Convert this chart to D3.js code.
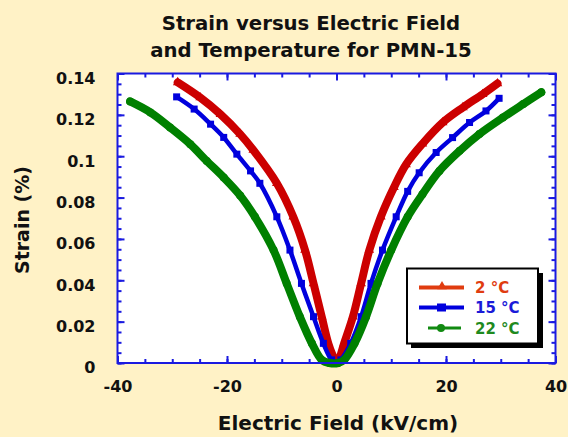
<!DOCTYPE html>
<html>
<head>
<meta charset="utf-8">
<script src="https://cdn.jsdelivr.net/npm/d3@7"></script>
<style>
  body { margin: 0; background: #fff2c6; }
  text { font-family: "DejaVu Sans", sans-serif; font-weight: bold; }
</style>
</head>
<body>
<div id="chart"></div>
<script>
// strain (%) vs electric field (kV/cm)
var field2 = [-29.0, -24.9, -21.2, -17.6, -15.2, -10.9, -7.9, -5.75, -4.2, -2.7, -1.5, -0.6, -0.1,
    0.4, 1.4, 3.0, 4.5, 6.0, 8.1, 10.5, 12.7, 15.7, 19.4, 23.1, 26.7, 29.4];
var strain2 = [0.1357, 0.1284, 0.1203, 0.1107, 0.103, 0.0869, 0.0707, 0.0546, 0.0385, 0.0224, 0.0095, 0.003, 0.0,
    0.0015, 0.0095, 0.0224, 0.0385, 0.0546, 0.0707, 0.085, 0.096, 0.106, 0.1163, 0.1236, 0.130, 0.1352];

var field15 = [-29.2, -26.0, -23.0, -20.6, -18.2, -15.7, -14.0, -10.9, -8.5, -6.4, -4.2, -2.4, -0.9, 0.0,
    0.8, 2.6, 4.5, 6.3, 8.4, 10.9, 13.0, 15.1, 18.2, 21.2, 24.3, 27.3, 29.7];
var strain15 = [0.1287, 0.1228, 0.1155, 0.1091, 0.1010, 0.0929, 0.0869, 0.0707, 0.0546, 0.0385, 0.0224, 0.0095, 0.0015, 0.0,
    0.0015, 0.0095, 0.0224, 0.0385, 0.0546, 0.0707, 0.083, 0.092, 0.1018, 0.109, 0.1163, 0.1219, 0.128];

var field22 = [-37.7, -34.0, -30.4, -26.7, -23.7, -20.6, -17.6, -14.9, -11.5, -9.1, -6.7, -4.5, -2.7, -1.3, 0.3,
    1.4, 3.3, 5.4, 7.5, 10.0, 13.0, 15.7, 18.8, 22.5, 26.1, 30.4, 34.1, 37.4];
var strain22 = [0.1265, 0.1212, 0.1139, 0.1058, 0.0977, 0.0897, 0.081, 0.0707, 0.0546, 0.0385, 0.0224, 0.0095, 0.0015, 0.0, 0.0,
    0.0015, 0.0095, 0.0224, 0.0385, 0.0546, 0.0707, 0.0816, 0.0929, 0.1026, 0.1107, 0.1187, 0.1252, 0.1309];

var seriesNames = ["2 \u00B0C", "15 \u00B0C", "22 \u00B0C"];
var xTicks = [-40, -20, 0, 20, 40];
var yTicks = [0, 0.02, 0.04, 0.06, 0.08, 0.1, 0.12, 0.14];

var width = 568, height = 437;
var plotL = 117.5, plotR = 555.5, plotT = 73.5, plotB = 363;

var svg = d3.select("#chart").append("svg")
    .attr("width", width)
    .attr("height", height);

var xScale = d3.scaleLinear().domain([-40, 40]).range([plotL, plotR]);
var yScale = d3.scaleLinear().domain([0, 0.14]).range([plotB, plotT]);

svg.append("rect")
    .attr("x", plotL).attr("y", plotT)
    .attr("width", plotR - plotL).attr("height", plotB - plotT)
    .attr("fill", "#fff");

// minor ticks on all four sides, pointing inward
var xMinor = d3.range(-40, 40.1, 5), yMinor = d3.range(0, 0.1401, 0.005);
function ticks(axis, tr, vals, size) {
    svg.append("g").attr("class", "ax").attr("transform", tr)
        .call(axis.tickValues(vals).tickSize(size).tickFormat(""));
}
ticks(d3.axisBottom(xScale), "translate(0," + plotB + ")", xMinor, -4);
ticks(d3.axisTop(xScale), "translate(0," + plotT + ")", xMinor, -4);
ticks(d3.axisLeft(yScale), "translate(" + plotL + ",0)", yMinor, -4);
ticks(d3.axisRight(yScale), "translate(" + plotR + ",0)", yMinor, -4);
ticks(d3.axisTop(xScale), "translate(0," + plotT + ")", xTicks, -7);
ticks(d3.axisRight(yScale), "translate(" + plotR + ",0)", yTicks, -7);

var xAxis = svg.append("g").attr("class", "ax")
    .attr("transform", "translate(0," + plotB + ")")
    .call(d3.axisBottom(xScale).tickValues(xTicks).tickSize(-7).tickPadding(18).tickFormat(function (d) { return String(d); }));
var yAxis = svg.append("g").attr("class", "ax")
    .attr("transform", "translate(" + plotL + ",0)")
    .call(d3.axisLeft(yScale).tickValues(yTicks).tickSize(-7).tickPadding(22).tickFormat(function (d) { return d === 0 ? "0" : String(+d.toFixed(2)); }));

svg.selectAll(".ax .domain").remove();
svg.selectAll(".ax line").attr("stroke", "#1a1ae0").attr("stroke-width", 2);
svg.selectAll(".ax text").attr("fill", "#111").style("font-size", "16px");
yAxis.selectAll("text").attr("dy", "0.62em");
xAxis.selectAll("text").attr("dy", "0.71em");

var line = d3.line()
    .x(function (d) { return xScale(d[0]); })
    .y(function (d) { return yScale(d[1]); })
    .curve(d3.curveCatmullRom.alpha(0.5));

var red = "#cc0000", blue = "#0000dd", green = "#008000";
var pts2 = d3.zip(field2, strain2), pts15 = d3.zip(field15, strain15), pts22 = d3.zip(field22, strain22);

svg.append("path").datum(pts2).attr("d", line)
    .attr("fill", "none").attr("stroke", red).attr("stroke-width", 8).attr("stroke-linecap", "round");
svg.append("g").selectAll("path").data(pts2).enter().append("path")
    .attr("d", d3.symbol().type(d3.symbolTriangle).size(40))
    .attr("transform", function (d) { return "translate(" + xScale(d[0]) + "," + yScale(d[1]) + ")"; })
    .attr("fill", red);

svg.append("path").datum(pts15).attr("d", line)
    .attr("fill", "none").attr("stroke", blue).attr("stroke-width", 4.5);
svg.append("g").selectAll("rect").data(pts15).enter().append("rect")
    .attr("x", function (d) { return xScale(d[0]) - 3.5; })
    .attr("y", function (d) { return yScale(d[1]) - 3.5; })
    .attr("width", 7).attr("height", 7)
    .attr("fill", blue);

svg.append("path").datum(pts22).attr("d", line)
    .attr("fill", "none").attr("stroke", green).attr("stroke-width", 8).attr("stroke-linecap", "round");
svg.append("g").selectAll("circle").data(pts22).enter().append("circle")
    .attr("cx", function (d) { return xScale(d[0]); })
    .attr("cy", function (d) { return yScale(d[1]); })
    .attr("r", 4)
    .attr("fill", green);

// frame
svg.append("rect")
    .attr("x", plotL).attr("y", plotT)
    .attr("width", plotR - plotL).attr("height", plotB - plotT)
    .attr("fill", "none").attr("stroke", "#1a1ae0").attr("stroke-width", 2);

// titles
svg.append("text").attr("x", 311).attr("y", 30).attr("text-anchor", "middle")
    .style("font-size", "19.7px").attr("fill", "#111").text("Strain versus Electric Field");
svg.append("text").attr("x", 311).attr("y", 57).attr("text-anchor", "middle")
    .style("font-size", "19.7px").attr("fill", "#111").text("and Temperature for PMN-15");
svg.append("text").attr("x", 338).attr("y", 430).attr("text-anchor", "middle")
    .style("font-size", "20px").attr("fill", "#111").text("Electric Field (kV/cm)");
svg.append("text").attr("transform", "translate(29,220) rotate(-90)").attr("text-anchor", "middle")
    .style("font-size", "19px").attr("fill", "#111").text("Strain (%)");

// legend
var lg = svg.append("g");
lg.append("rect").attr("x", 411).attr("y", 273).attr("width", 132).attr("height", 75).attr("fill", "#000");
lg.append("rect").attr("x", 407).attr("y", 268.5).attr("width", 131).attr("height", 75)
    .attr("fill", "#fff").attr("stroke", "#000").attr("stroke-width", 2);
var legColors = ["#e03c10", blue, "#118a11"];
var legText = ["#e03c10", "#1a1ad8", "#1f8a1f"];
var rowY = [287.5, 307.5, 328];
seriesNames.forEach(function (name, i) {
    var x0 = i === 2 ? 428 : 419, x1 = i === 2 ? 461 : 464;
    lg.append("line").attr("x1", x0).attr("x2", x1).attr("y1", rowY[i]).attr("y2", rowY[i])
        .attr("stroke", legColors[i]).attr("stroke-width", i === 2 ? 3 : 4);
    if (i === 0) {
        lg.append("path").attr("d", d3.symbol().type(d3.symbolTriangle).size(40))
            .attr("transform", "translate(442," + (rowY[i] - 1) + ")").attr("fill", legColors[i]);
    } else if (i === 1) {
        lg.append("rect").attr("x", 437).attr("y", rowY[i] - 4).attr("width", 9).attr("height", 8).attr("fill", legColors[i]);
    } else {
        lg.append("circle").attr("cx", 441).attr("cy", rowY[i]).attr("r", 4).attr("fill", legColors[i]);
    }
    lg.append("text").attr("x", 475).attr("y", rowY[i] + 5.5)
        .style("font-size", "15px").attr("fill", legText[i]).text(name);
});
</script>
</body>
</html>
